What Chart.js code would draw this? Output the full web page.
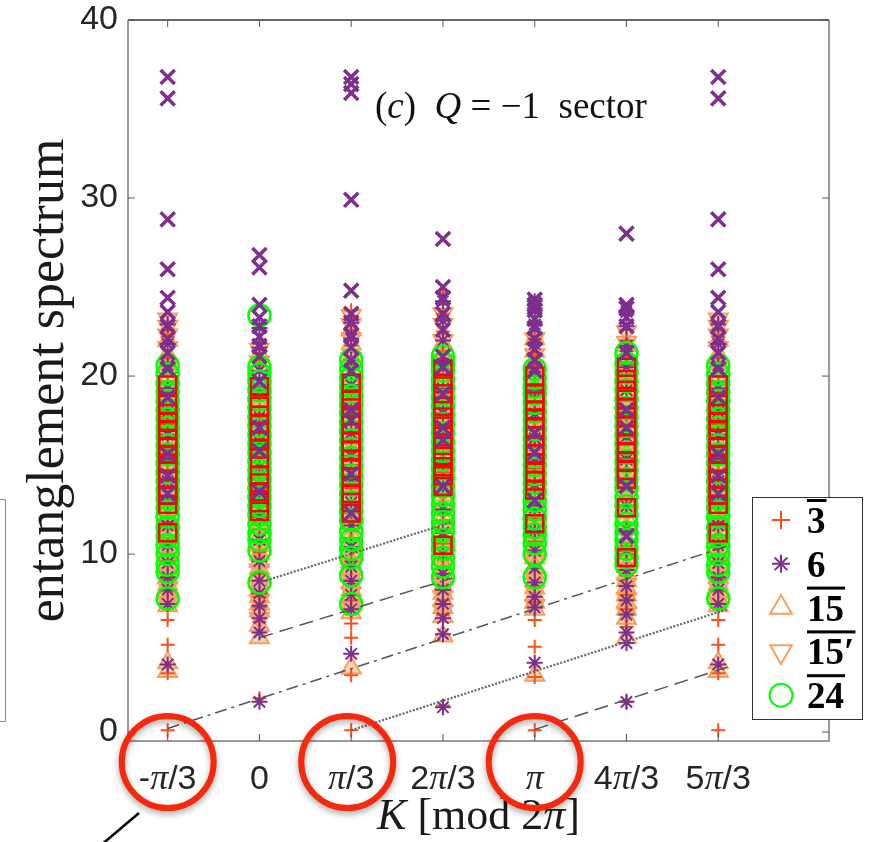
<!DOCTYPE html>
<html>
<head>
<meta charset="utf-8">
<script src="https://cdn.jsdelivr.net/npm/chart.js@4.4.0/dist/chart.umd.min.js"></script>
<style>
  html, body { margin: 0; padding: 0; background: #fff; }
  #wrap { width: 883px; height: 842px; }
</style>
</head>
<body>
<div id="wrap"><canvas id="es" width="883" height="842"></canvas></div>
<script>
// K columns, in units of pi/3 : -pi/3, 0, pi/3, 2pi/3, pi, 4pi/3, 5pi/3
const kMult = [-1, 0, 1, 2, 3, 4, 5];
const kLabels = ['-π/3', '0', 'π/3', '2π/3', 'π', '4π/3', '5π/3'];
const yTicks = [0, 10, 20, 30, 40];

// one inner list per K column
const plus3 = [
  [0.1, 3.3, 4.9, 6.3, 7.9, 8.6, 9.6, 10.4, 11.8, 13.2, 14.6, 15.9, 17.3, 18.6, 19.7, 21.0, 22.2, 22.6, 23.0],
  [1.9, 6.2, 7.0, 7.6, 8.9, 10.1, 11.4, 12.9, 14.3, 15.6, 16.9, 18.1, 19.4, 20.6, 21.3, 21.9],
  [0.1, 3.2, 5.3, 6.1, 7.4, 8.3, 9.6, 10.9, 12.3, 13.7, 15.0, 16.4, 17.8, 19.2, 20.6, 21.7, 22.6, 23.2, 23.7],
  [1.5, 6.6, 7.4, 8.2, 9.3, 10.6, 11.9, 13.3, 14.6, 16.0, 17.3, 18.7, 20.0, 21.4, 22.5, 23.5, 24.0, 24.7],
  [0.1, 3.1, 4.8, 6.3, 7.3, 8.2, 9.4, 10.7, 12.0, 13.4, 14.8, 16.1, 17.5, 18.9, 20.2, 21.2, 22.1, 23.0, 23.8],
  [1.7, 5.9, 6.9, 7.7, 8.8, 10.0, 11.3, 12.7, 14.1, 15.4, 16.7, 18.0, 19.3, 20.6, 21.4, 22.0, 22.6],
  [0.1, 3.3, 4.9, 6.3, 7.9, 8.6, 9.6, 10.4, 11.8, 13.2, 14.6, 15.9, 17.3, 18.6, 19.7, 21.0, 22.2, 22.6, 23.0]
];
const star6 = [
  [3.8, 7.2, 8.0, 8.7, 9.5, 10.5, 11.6, 12.9, 14.1, 15.4, 16.7, 18.0, 19.3, 20.6, 21.8, 22.9],
  [1.7, 5.6, 6.4, 7.1, 7.8, 8.5, 9.6, 10.8, 12.1, 13.5, 14.9, 16.3, 17.7, 19.0, 20.3, 21.6, 22.7],
  [4.4, 6.9, 7.7, 8.5, 9.3, 10.4, 11.6, 12.9, 14.2, 15.5, 16.8, 18.1, 19.5, 20.9, 22.1, 23.0],
  [1.4, 5.5, 6.4, 7.2, 8.0, 8.9, 10.0, 11.2, 12.5, 13.8, 15.1, 16.5, 17.9, 19.3, 20.7, 22.0, 23.1, 24.2],
  [3.9, 7.0, 7.6, 8.4, 9.2, 10.2, 11.3, 12.6, 13.9, 15.2, 16.5, 17.9, 19.2, 20.5, 21.8, 22.9, 23.8, 24.2],
  [1.7, 5.0, 5.6, 6.6, 7.4, 8.2, 9.1, 10.2, 11.4, 12.7, 14.0, 15.3, 16.6, 17.9, 19.2, 20.5, 21.7, 22.8, 23.6],
  [3.8, 7.2, 8.0, 8.7, 9.5, 10.5, 11.6, 12.9, 14.1, 15.4, 16.7, 18.0, 19.3, 20.6, 21.8, 22.9]
];
const tri15 = [
  [3.4, 3.9, 7.1, 7.5, 7.9, 8.3, 8.7, 9.1, 9.5, 9.9, 10.4, 10.9, 11.4, 11.9, 12.5, 13.1, 13.7, 14.3, 14.9, 15.5, 16.1, 16.7, 17.3, 17.9, 18.5, 19.1, 19.8, 20.5, 21.2, 22.0],
  [5.3, 6.0, 6.8, 7.2, 7.6, 8.0, 8.4, 8.8, 9.2, 9.6, 10.0, 10.5, 11.0, 11.5, 12.1, 12.7, 13.3, 13.9, 14.5, 15.1, 15.7, 16.3, 17.0, 17.7, 18.4, 19.1, 19.8, 20.5, 21.2],
  [3.6, 6.7, 7.2, 7.6, 8.0, 8.4, 8.8, 9.2, 9.6, 10.1, 10.6, 11.1, 11.7, 12.3, 12.9, 13.5, 14.1, 14.7, 15.3, 15.9, 16.5, 17.1, 17.7, 18.3, 19.0, 19.7, 20.4, 21.1, 21.8, 22.6],
  [5.4, 6.5, 7.0, 7.4, 7.8, 8.2, 8.6, 9.0, 9.4, 9.9, 10.4, 10.9, 11.5, 12.1, 12.7, 13.3, 13.9, 14.5, 15.1, 15.7, 16.3, 16.9, 17.6, 18.3, 19.0, 19.7, 20.4, 21.1, 21.8],
  [3.2, 6.9, 7.3, 7.7, 8.1, 8.5, 8.9, 9.3, 9.8, 10.3, 10.8, 11.3, 11.9, 12.5, 13.1, 13.7, 14.3, 14.9, 15.5, 16.1, 16.7, 17.3, 17.9, 18.6, 19.3, 20.0, 20.7, 21.4, 22.1],
  [5.3, 6.4, 6.9, 7.3, 7.7, 8.1, 8.5, 8.9, 9.3, 9.8, 10.3, 10.8, 11.4, 12.0, 12.6, 13.2, 13.8, 14.4, 15.0, 15.6, 16.2, 16.8, 17.5, 18.2, 18.9, 19.6, 20.3, 21.0, 21.7],
  [3.4, 3.9, 7.1, 7.5, 7.9, 8.3, 8.7, 9.1, 9.5, 9.9, 10.4, 10.9, 11.4, 11.9, 12.5, 13.1, 13.7, 14.3, 14.9, 15.5, 16.1, 16.7, 17.3, 17.9, 18.5, 19.1, 19.8, 20.5, 21.2, 22.0]
];
const tri15p = [
  [7.3, 8.1, 8.9, 9.7, 10.7, 11.7, 12.8, 13.9, 15.0, 16.1, 17.2, 18.3, 19.4, 20.5, 21.6, 22.3, 22.8, 23.2],
  [6.4, 7.4, 8.2, 9.1, 10.2, 11.3, 12.4, 13.6, 14.8, 16.0, 17.2, 18.4, 19.6, 20.8, 21.5],
  [7.0, 7.8, 8.6, 9.4, 10.4, 11.5, 12.6, 13.8, 15.0, 16.2, 17.4, 18.6, 19.8, 21.0, 22.1, 22.9, 23.4],
  [6.8, 7.6, 8.4, 9.3, 10.3, 11.4, 12.5, 13.7, 14.9, 16.1, 17.3, 18.5, 19.7, 20.9, 22.0, 22.9, 23.5],
  [7.1, 7.9, 8.7, 9.6, 10.6, 11.7, 12.8, 14.0, 15.2, 16.4, 17.6, 18.8, 20.0, 21.2, 22.1],
  [6.7, 7.5, 8.3, 9.2, 10.2, 11.3, 12.4, 13.6, 14.8, 16.0, 17.2, 18.4, 19.6, 20.8, 21.9, 22.5],
  [7.3, 8.1, 8.9, 9.7, 10.7, 11.7, 12.8, 13.9, 15.0, 16.1, 17.2, 18.3, 19.4, 20.5, 21.6, 22.3, 22.8, 23.2]
];
const circ24 = [
  [7.5, 9.0, 9.4, 10.0, 10.5, 11.0, 11.5, 12.1, 12.6, 13.1, 13.6, 14.1, 14.6, 15.1, 15.6, 16.1, 16.6, 17.1, 17.6, 18.1, 18.6, 19.1, 19.6, 20.1, 20.6],
  [8.4, 10.2, 10.8, 11.2, 11.7, 12.2, 12.7, 13.2, 13.7, 14.2, 14.7, 15.2, 15.7, 16.2, 16.7, 17.2, 17.7, 18.2, 18.7, 19.2, 19.7, 20.1, 20.5, 23.4],
  [7.2, 8.8, 9.8, 10.3, 10.8, 11.3, 11.9, 12.4, 12.9, 13.4, 13.9, 14.4, 14.9, 15.4, 15.9, 16.4, 16.9, 17.4, 17.9, 18.4, 18.9, 19.4, 19.9, 20.4, 20.9],
  [8.7, 9.3, 9.8, 10.3, 10.8, 11.3, 11.8, 12.3, 12.8, 13.3, 13.8, 14.3, 14.8, 15.3, 15.8, 16.3, 16.8, 17.3, 17.8, 18.3, 18.8, 19.3, 19.8, 20.3, 20.7, 21.1],
  [8.7, 10.0, 10.6, 11.1, 11.5, 12.0, 12.5, 13.0, 13.5, 14.0, 14.5, 15.0, 15.5, 16.0, 16.5, 17.0, 17.5, 18.0, 18.5, 19.0, 19.4, 19.9, 20.4],
  [9.4, 9.8, 10.3, 10.8, 11.2, 11.7, 12.2, 12.7, 13.2, 13.7, 14.2, 14.7, 15.2, 15.7, 16.2, 16.7, 17.2, 17.7, 18.2, 18.7, 19.2, 19.7, 20.2, 20.7, 21.3],
  [7.5, 9.0, 9.4, 10.0, 10.5, 11.0, 11.5, 12.1, 12.6, 13.1, 13.6, 14.1, 14.6, 15.1, 15.6, 16.1, 16.6, 17.1, 17.6, 18.1, 18.6, 19.1, 19.6, 20.1, 20.6]
];
const sqRed = [
  [11.2, 12.8, 13.3, 13.7, 14.2, 14.7, 15.1, 15.6, 16.0, 16.5, 17.0, 17.4, 17.9, 18.4, 19.5],
  [12.4, 12.9, 13.5, 14.0, 14.4, 15.4, 15.9, 16.4, 16.9, 17.3, 17.8, 18.3, 19.4],
  [12.3, 12.9, 13.4, 14.3, 14.8, 15.3, 15.8, 16.3, 16.8, 17.3, 17.8, 18.2, 18.7, 19.6],
  [10.5, 13.8, 14.4, 14.9, 15.5, 16.1, 16.6, 17.2, 17.7, 18.3, 19.0, 19.6, 20.4],
  [11.7, 13.6, 14.1, 14.6, 15.1, 15.6, 16.1, 16.6, 17.1, 17.6, 18.1, 18.6, 19.0, 20.0],
  [9.8, 12.6, 14.2, 14.7, 15.2, 15.7, 16.2, 16.7, 17.2, 17.7, 18.2, 18.7, 19.2, 19.8, 20.5],
  [11.2, 12.8, 13.3, 13.7, 14.2, 14.7, 15.1, 15.6, 16.0, 16.5, 17.0, 17.4, 17.9, 18.4, 19.5]
];
const xPurple = [
  [13.4, 14.4, 15.6, 18.8, 20.4, 21.3, 22.1, 22.8, 23.6, 24.4, 26.0, 28.8, 35.6, 36.8],
  [13.5, 15.8, 17.1, 19.7, 21.1, 21.7, 22.2, 22.8, 23.3, 24.0, 26.1, 26.8],
  [12.3, 14.5, 17.5, 18.1, 20.3, 20.9, 21.6, 22.3, 23.0, 23.5, 24.8, 29.9, 35.9, 36.4, 36.8],
  [13.8, 16.4, 17.1, 19.0, 20.5, 21.1, 22.6, 23.5, 24.4, 25.0, 27.7],
  [13.0, 15.7, 16.8, 20.3, 20.9, 21.5, 22.1, 22.7, 23.2, 23.7, 24.0, 24.3],
  [11.0, 13.8, 17.1, 18.1, 21.3, 22.8, 23.3, 23.8, 24.0, 28.0],
  [13.4, 14.4, 15.6, 18.8, 20.4, 21.3, 22.1, 22.8, 23.6, 24.4, 26.0, 28.8, 35.6, 36.8]
];

// guide lines: start/end K (units of pi/3) and start/end level
const guideK = [[-1, 5.1], [1, 5.1], [3, 5.1], [0, 2.1], [0, 2.1]];
const guideVal = [[0.2, 10.45], [0.1, 6.9], [0.15, 3.65], [8.4, 11.8], [5.3, 8.65]];
const guideDash = [[12, 5, 3, 5], [2, 1.6], [14, 7], [2, 1.6], [14, 7]];

const PI3 = Math.PI / 3;
function pts(cols) {
  const out = [];
  cols.forEach((col, i) => col.forEach(v => out.push({x: kMult[i] * PI3, y: v})));
  return out;
}

const purple = '#7e2f8e';
const orange = '#f5a05e';
const datasets = [];
guideK.forEach((k, i) => {
  datasets.push({
    type: 'line', label: 'guide' + i,
    data: [{x: k[0] * PI3, y: guideVal[i][0]}, {x: k[1] * PI3, y: guideVal[i][1]}],
    borderColor: i == 1 || i == 3 ? '#666' : '#555', borderWidth: i == 1 || i == 3 ? 2.2 : 1.5,
    borderDash: guideDash[i], pointRadius: 0, fill: false
  });
});
function markers(label, cols, style, color, r, w, rot, fill) {
  return {
    type: 'scatter', label: label, data: pts(cols),
    pointStyle: style, pointRadius: r, pointRotation: rot || 0,
    pointBorderWidth: w, borderColor: color, backgroundColor: 'rgba(0,0,0,0)',
    pointBackgroundColor: fill || 'rgba(0,0,0,0)', pointBorderColor: color
  };
}
datasets.push(markers('x', xPurple, 'crossRot', purple, 10, 3.5));
datasets.push(markers('sq', sqRed, 'rect', '#ff0000', 12, 2.5));
datasets.push(markers('24', circ24, 'circle', '#00ff00', 11, 2.5));
datasets.push(markers('6', star6, 'star', purple, 8, 2));
datasets.push(markers('3', plus3, 'cross', '#ff4d1a', 7, 2));
datasets.push(markers("15'", tri15p, 'triangle', orange, 11, 2, 180, 'rgba(245,160,94,0.45)'));
datasets.push(markers('15', tri15, 'triangle', orange, 11, 2, 0, 'rgba(245,160,94,0.45)'));

const legendRows = [
  {label: '3', text: '3', bar: true, r: 9},
  {label: '6', text: '6', bar: false, r: 9},
  {label: '15', text: '15', bar: true, r: 12.5},
  {label: "15'", text: '15′', bar: true, r: 12.5},
  {label: '24', text: '24', bar: true, r: 11.5}
];

function drawRuns(ctx, runs, x, y, align) {
  let total = 0;
  runs.forEach(r => { ctx.font = r.f; total += ctx.measureText(r.t).width; });
  let cx = align == 'center' ? x - total / 2 : x;
  ctx.textAlign = 'left';
  runs.forEach(r => { ctx.font = r.f; ctx.fillText(r.t, cx, y); cx += ctx.measureText(r.t).width; });
}

const decor = {
  id: 'decor',
  afterDraw(chart) {
    const ctx = chart.ctx, a = chart.chartArea;
    const xs = chart.scales.x, ys = chart.scales.y;
    ctx.save();
    // box
    ctx.lineWidth = 1.5;
    ctx.strokeStyle = '#333';
    ctx.beginPath(); ctx.moveTo(a.left, a.top); ctx.lineTo(a.right, a.top); ctx.stroke();
    ctx.strokeStyle = '#7a7a7a';
    ctx.beginPath();
    ctx.moveTo(a.left, a.top); ctx.lineTo(a.left, a.bottom); ctx.lineTo(a.right, a.bottom); ctx.lineTo(a.right, a.top);
    ctx.stroke();
    // inward ticks
    ctx.lineWidth = 1;
    ctx.strokeStyle = '#555';
    ctx.beginPath();
    xs.ticks.forEach(t => {
      const px = xs.getPixelForValue(t.value);
      ctx.moveTo(px, a.top); ctx.lineTo(px, a.top + 7);
      ctx.moveTo(px, a.bottom); ctx.lineTo(px, a.bottom - 7);
    });
    ys.ticks.forEach(t => {
      const py = ys.getPixelForValue(t.value);
      ctx.moveTo(a.left, py); ctx.lineTo(a.left + 7, py);
      ctx.moveTo(a.right, py); ctx.lineTo(a.right - 7, py);
    });
    ctx.stroke();

    // x tick labels, pi in italic serif
    ctx.fillStyle = '#262626';
    ctx.textBaseline = 'alphabetic';
    xs.ticks.forEach((t, i) => {
      const px = xs.getPixelForValue(t.value);
      const parts = kLabels[i].split('π');
      const runs = [];
      parts.forEach((p, j) => {
        if (p) runs.push({t: p, f: '34px "Liberation Sans", Arial, sans-serif'});
        if (j < parts.length - 1) runs.push({t: 'π', f: 'italic 36px "Liberation Serif", serif'});
      });
      drawRuns(ctx, runs, px, a.bottom + 48, 'center');
    });

    // x axis title
    ctx.fillStyle = '#1a1a1a';
    const rom = '44px "Liberation Serif", serif', ita = 'italic 44px "Liberation Serif", serif';
    drawRuns(ctx, [{t: 'K', f: ita}, {t: ' [mod 2', f: rom}, {t: 'π', f: ita}, {t: ']', f: rom}], (a.left + a.right) / 2, 829, 'center');

    // panel label
    const r2 = '37px "Liberation Serif", serif', i2 = 'italic 37px "Liberation Serif", serif';
    ctx.fillStyle = '#111';
    drawRuns(ctx, [{t: '(', f: r2}, {t: 'c', f: i2}, {t: ')  ', f: r2}, {t: 'Q', f: i2}, {t: ' = −1  sector', f: r2}], 375, 118, 'left');

    // legend box
    const lx = 752, ly = 497, lw = 110, lh = 222;
    ctx.fillStyle = '#fff';
    ctx.fillRect(lx, ly, lw, lh);
    ctx.strokeStyle = '#333'; ctx.lineWidth = 1;
    ctx.strokeRect(lx + 0.5, ly + 0.5, lw, lh);
    legendRows.forEach((row, i) => {
      const ds = chart.data.datasets.find(d => d.label === row.label);
      const cy = ly + 23 + i * 43.8;
      ctx.strokeStyle = ds.pointBorderColor;
      ctx.fillStyle = 'rgba(0,0,0,0)';
      ctx.lineWidth = 2;
      Chart.helpers.drawPoint(ctx, {pointStyle: ds.pointStyle, rotation: ds.pointRotation, radius: row.r, borderWidth: 2}, lx + 29, cy);
      ctx.fillStyle = '#000';
      ctx.font = 'bold 37px "Liberation Serif", serif';
      ctx.textAlign = 'left';
      ctx.textBaseline = 'alphabetic';
      ctx.fillText(row.text, lx + 55, cy + 13);
      if (row.bar) {
        const w = ctx.measureText(row.text).width;
        ctx.fillRect(lx + 55, cy - 21, w + 1, 3);
      }
    });

    // red highlight circles round -pi/3, pi/3 and pi
    [-1, 1, 3].forEach(m => {
      const px = xs.getPixelForValue(m * PI3);
      ctx.save();
      ctx.shadowColor = 'rgba(0,0,0,0.35)';
      ctx.shadowBlur = 6; ctx.shadowOffsetY = 3;
      ctx.strokeStyle = '#f7290c';
      ctx.lineWidth = 6;
      ctx.beginPath();
      ctx.arc(px - (m == 1 ? 4 : 0), a.bottom + 21, 46, 0, 2 * Math.PI);
      ctx.stroke();
      ctx.restore();
    });
    // pointer line
    ctx.strokeStyle = '#000'; ctx.lineWidth = 2.5;
    ctx.beginPath(); ctx.moveTo(139, 813); ctx.lineTo(100, 846); ctx.stroke();
    // edge of neighbouring panel's legend
    ctx.strokeStyle = '#8a8a8a'; ctx.lineWidth = 1;
    ctx.beginPath();
    ctx.moveTo(0, 499.5); ctx.lineTo(5.5, 499.5); ctx.lineTo(5.5, 721.5); ctx.lineTo(0, 721.5);
    ctx.stroke();
    ctx.restore();
  }
};

new Chart(document.getElementById('es'), {
  type: 'scatter',
  data: {datasets: datasets},
  options: {
    responsive: false,
    animation: false,
    events: [],
    layout: {padding: {top: 20, right: 54, left: 0, bottom: 0}},
    plugins: {legend: {display: false}, tooltip: {enabled: false}},
    scales: {
      x: {
        type: 'linear', min: -1.5, max: 6.5,
        afterBuildTicks: s => { s.ticks = kMult.map(m => ({value: m * PI3})); },
        afterFit: s => { s.height = 101; s.paddingLeft = 0; s.paddingRight = 0; },
        ticks: {display: false},
        grid: {display: false},
        border: {display: false}
      },
      y: {
        type: 'linear', min: -0.5, max: 40,
        afterBuildTicks: s => { s.ticks = yTicks.map(v => ({value: v})); },
        afterFit: s => { s.width = 128; s.paddingTop = 0; s.paddingBottom = 0; },
        ticks: {color: '#262626', padding: 10, font: {family: '"Liberation Sans", Arial, sans-serif', size: 34}},
        grid: {display: false, drawTicks: false},
        border: {display: false},
        title: {display: true, text: 'entanglement spectrum', color: '#1a1a1a', padding: {top: 18, bottom: 0},
                font: {family: '"Liberation Serif", serif', size: 52}}
      }
    }
  },
  plugins: [decor]
});
</script>
</body>
</html>
